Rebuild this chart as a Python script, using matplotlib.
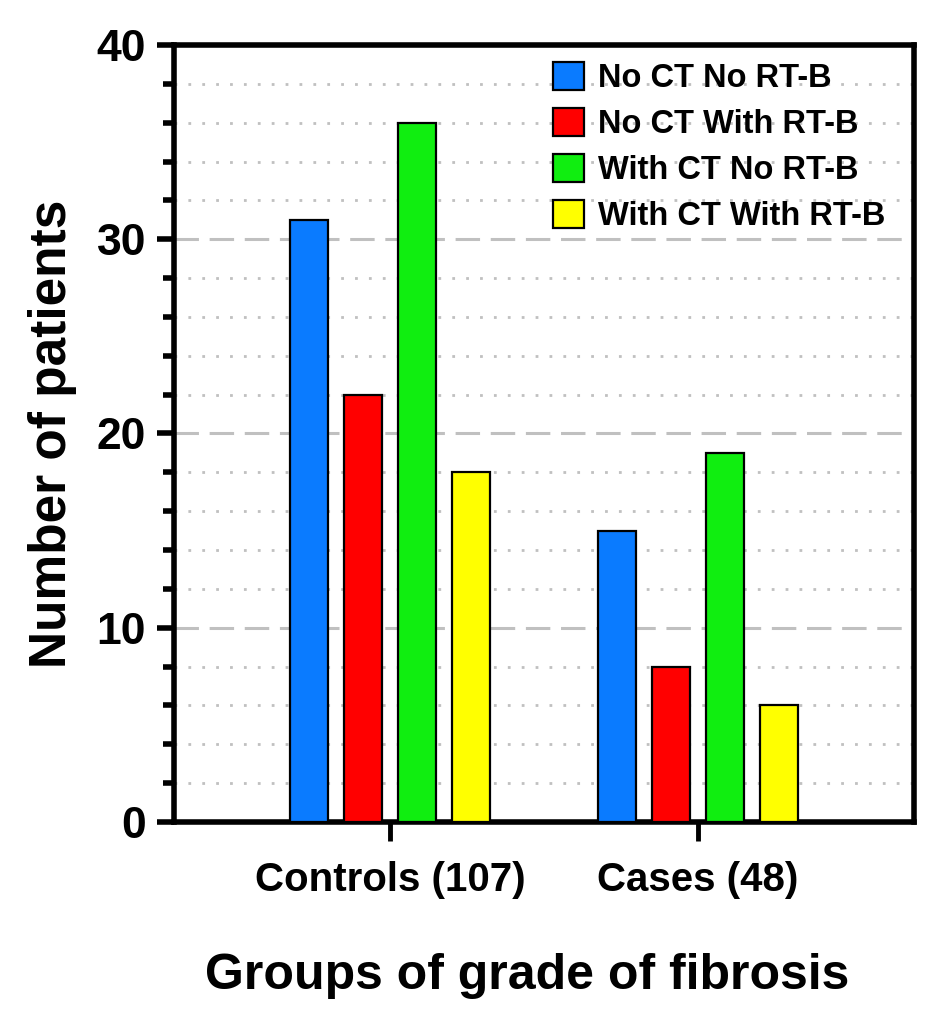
import numpy as np
import matplotlib
matplotlib.use("Agg")
import matplotlib.pyplot as plt
from matplotlib.ticker import MultipleLocator

groups = ["Controls (107)", "Cases (48)"]
series = ["No CT No RT-B", "No CT With RT-B", "With CT No RT-B", "With CT With RT-B"]
no_ct_no_rt = [31, 15]
no_ct_with_rt = [22, 8]
with_ct_no_rt = [36, 19]
with_ct_with_rt = [18, 6]
colors = ["#0A7BFF", "#FF0000", "#10EE10", "#FFFF00"]

plt.rcParams["font.family"] = ["Liberation Sans", "DejaVu Sans"]
plt.rcParams["font.weight"] = "bold"

fig = plt.figure(figsize=(9.45, 10.17), dpi=100)
ax = fig.add_axes([0.184, 0.1917, 0.783, 0.7641])

x = np.arange(len(groups))
w = 0.123
step = 0.175
vals = [no_ct_no_rt, no_ct_with_rt, with_ct_no_rt, with_ct_with_rt]
for i, (v, c, s) in enumerate(zip(vals, colors, series)):
    ax.bar(x + (i - 1.5) * step, v, w, color=c, edgecolor="black",
           linewidth=1.6, label=s, zorder=3)

ax.set_xlim(-0.701, 1.701)
ax.set_ylim(0, 40)
ax.yaxis.set_major_locator(MultipleLocator(10))
ax.yaxis.set_minor_locator(MultipleLocator(2))
ax.set_xticks(x)
ax.set_xticklabels(groups)

ax.grid(axis="y", which="major", color="#c0c0c0", linestyle=(0, (8, 3.5)),
        linewidth=2.2, zorder=0)
ax.grid(axis="y", which="minor", color="#c0c0c0", linestyle=(0, (1, 4)),
        linewidth=2, zorder=0)

for sp in ax.spines.values():
    sp.set_linewidth(4)
ax.tick_params(axis="y", which="major", length=12, width=4, labelsize=32, pad=8)
ax.tick_params(axis="y", which="minor", length=8, width=4)
ax.tick_params(axis="x", which="major", length=14, width=3.5, labelsize=29, pad=14)
for lab in ax.get_xticklabels() + ax.get_yticklabels():
    lab.set_fontweight("bold")

ax.set_ylabel("Number of patients", fontsize=37, fontweight="bold", labelpad=14)
ax.set_xlabel("Groups of grade of fibrosis", fontsize=36, fontweight="bold")
ax.xaxis.set_label_coords(0.478, -0.168)

leg = ax.legend(loc="upper left", bbox_to_anchor=(0.495, 0.995), frameon=False,
                fontsize=23.5, handlelength=0.95, handleheight=0.95,
                handletextpad=0.42, labelspacing=0.42, borderaxespad=0)
for t in leg.get_texts():
    t.set_fontweight("bold")

fig.savefig("out.png", dpi=100)
